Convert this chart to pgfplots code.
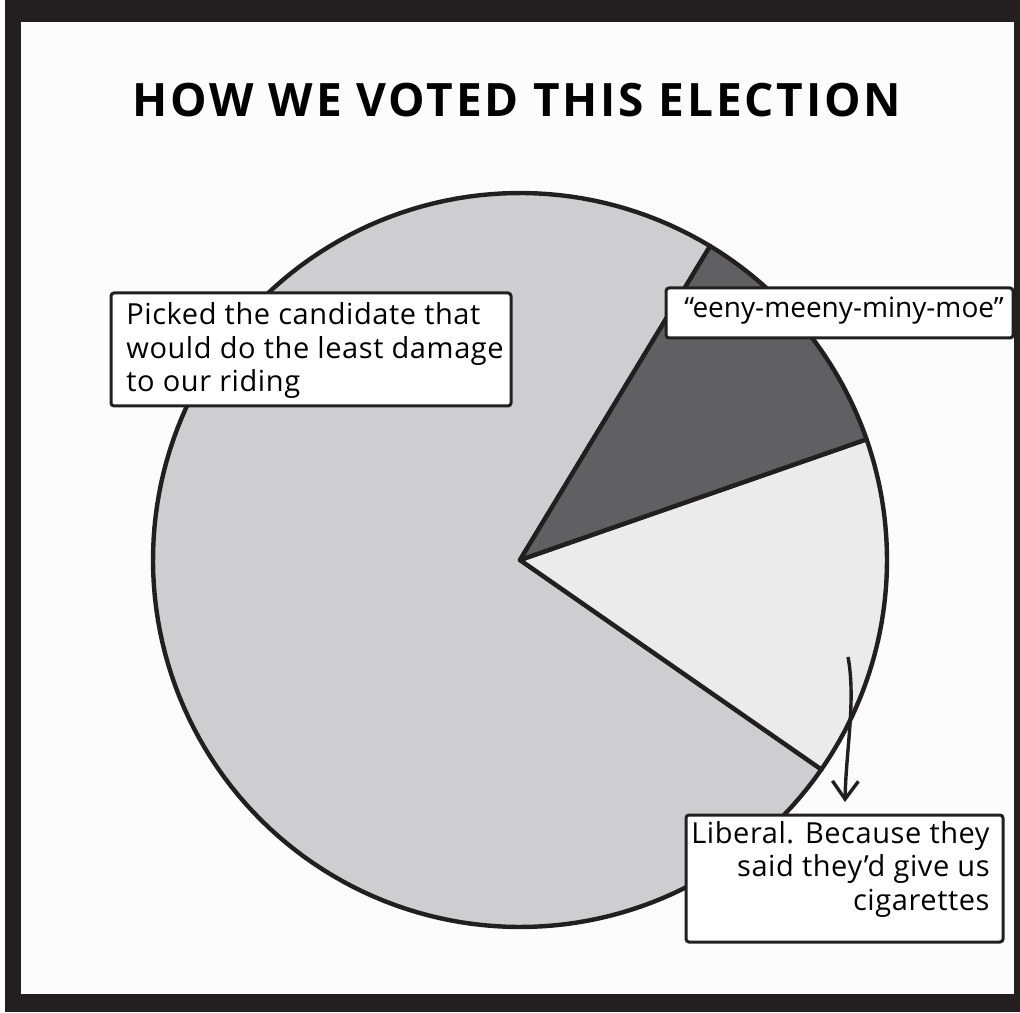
\documentclass[border=0pt]{standalone}
\usepackage{fontspec}
\setmainfont{Open Sans}
\usepackage{pgfplots}
\pgfplotsset{compat=1.18}
\usepgfplotslibrary{polar}
\usetikzlibrary{arrows.meta}
\definecolor{framec}{RGB}{35,31,32}
\definecolor{bigc}{RGB}{206,206,209}
\definecolor{darkc}{RGB}{96,96,99}
\definecolor{lightc}{RGB}{235,235,236}
% slice shares (percent)
\def\vLight{15}
\def\vDark{11}
\def\vBig{74}
\def\vStart{-34.8}
\newcommand{\lbl}{\fontsize{14.5}{16}\selectfont\addfontfeature{LetterSpace=2}}
\begin{document}
\begin{tikzpicture}[x=0.5pt,y=0.5pt]
\pgfmathsetmacro{\aA}{\vStart}
\pgfmathsetmacro{\aB}{\aA+3.6*\vLight}
\pgfmathsetmacro{\aC}{\aB+3.6*\vDark}
\pgfmathsetmacro{\aD}{\aC+3.6*\vBig}
% frame
\fill[white] (0,0) rectangle (1020,1012);
\fill[framec] (5,0) rectangle (1020,1012);
\fill[white!99!black] (21,18) rectangle (1014,990);
% title
\node[anchor=base, inner sep=0pt, font=\fontsize{23}{26}\selectfont\bfseries\addfontfeature{LetterSpace=6}] at (517,895) {HOW WE VOTED THIS ELECTION};
% pie
\begin{polaraxis}[at={(260pt,226pt)}, anchor=origin, scale only axis, width=367pt, hide axis,
  xmin=0, xmax=360, ymin=0, ymax=1, clip=false]
\addplot[fill=bigc, draw=framec, line width=2.2pt, domain=\aC:\aD, samples=150, line join=round] {1} -- (axis cs:0,0) -- cycle;
\addplot[fill=lightc, draw=framec, line width=2.2pt, domain=\aA:\aB, samples=40, line join=round] {1} -- (axis cs:0,0) -- cycle;
\addplot[fill=darkc, draw=framec, line width=2.2pt, domain=\aB:\aC, samples=40, line join=round] {1} -- (axis cs:0,0) -- cycle;
\end{polaraxis}
% label boxes
\draw[framec, line width=1.5pt, fill=white, rounded corners=1.5pt] (111,719) rectangle (511,606);
\node[anchor=base west, inner sep=0pt, font=\lbl] at (126,687) {Picked the candidate that};
\node[anchor=base west, inner sep=0pt, font=\lbl] at (126,653) {would do the least damage};
\node[anchor=base west, inner sep=0pt, font=\lbl] at (126,620) {to our riding};
\draw[framec, line width=1.5pt, fill=white, rounded corners=1.5pt] (666,724) rectangle (1013,674);
\node[anchor=base, inner sep=0pt, font=\fontsize{14}{16}\selectfont] at (844,694) {“eeny-meeny-miny-moe”};
\draw[framec, line width=1.5pt, fill=white, rounded corners=1.5pt] (686,197) rectangle (1003,70);
\node[anchor=base east, inner sep=0pt, font=\lbl] at (990,169) {Liberal. Because they};
\node[anchor=base east, inner sep=0pt, font=\lbl] at (990,136) {said they’d give us};
\node[anchor=base east, inner sep=0pt, font=\lbl] at (990,102) {cigarettes};
% arrow
\draw[framec, line width=1.7pt, -{Straight Barb[length=9pt,width=13pt]}] (848,355) .. controls (856,312) and (846,262) .. (845,210);
\end{tikzpicture}
\end{document}
